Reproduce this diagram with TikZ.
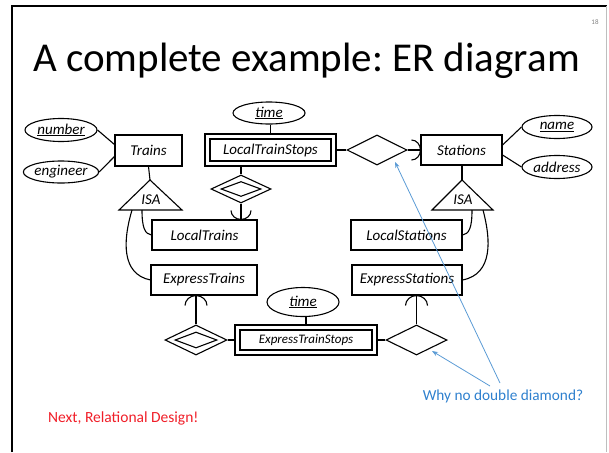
\documentclass[tikz,border=0pt]{standalone}
\usepackage{fontspec}
\setmainfont{Carlito}
\frenchspacing
\usetikzlibrary{shapes.geometric,calc,arrows.meta}
\definecolor{annblue}{RGB}{46,128,206}
\definecolor{arrblue}{RGB}{91,155,213}
\definecolor{nextred}{RGB}{240,30,40}
\definecolor{framegray}{RGB}{190,190,190}
\begin{document}
\begin{tikzpicture}[x=1pt,y=-1pt,
  lw/.style={line width=1.1pt},
  dfont/.style={font=\fontsize{15}{17}\selectfont\itshape},
  ent/.style={draw, lw, rectangle, inner sep=0pt, dfont},
  attr/.style={draw, lw, ellipse, inner sep=0pt, dfont},
  rel/.style={draw, lw, diamond, inner sep=0pt},
  conn/.style={lw},
  ann/.style={draw=arrblue, line width=0.8pt, -{Stealth[length=6pt,width=4.5pt]}},
  cupdown/.pic={\draw[lw] (-10,-9) .. controls (-10,-4) and (-5.5,0) .. (0,0) .. controls (5.5,0) and (10,-4) .. (10,-9);},
  cupup/.pic={\draw[lw] (-11,10) .. controls (-11,4.5) and (-6,0) .. (0,0) .. controls (6,0) and (11,4.5) .. (11,10);},
  cupright/.pic={\draw[lw] (-9,-10) .. controls (-4,-10) and (0,-5.5) .. (0,0) .. controls (0,5.5) and (-4,10) .. (-9,10);}
]
\useasboundingbox (0,0) rectangle (609,452);
% frame
\draw[line width=2pt] (12,452) -- (12,6) -- (607,6);
\draw[framegray, line width=0.6pt] (606.5,6) -- (606.5,452);
% title
\node[anchor=base west, inner sep=0pt, font=\fontsize{41}{46}\selectfont] (title) at (33,71) {A complete example: ER diagram};
\node[text=gray, font=\fontsize{7}{8}\selectfont, inner sep=0pt] (pnum) at (595,22) {18};

% entities and attributes
\node[attr, minimum width=72pt, minimum height=23pt] (number) at (61,130) {\underline{number}};
\node[attr, minimum width=72pt, minimum height=22pt] (engineer) at (61,172) {engineer};
\node[ent, minimum width=67pt, minimum height=31pt] (trains) at (148.5,150.5) {Trains};

\node[attr, minimum width=72pt, minimum height=22pt] (ttime) at (269,113) {\underline{time}};
\node[ent, minimum width=131pt, minimum height=32pt] (ltstops) at (270.5,150) {};
\node[ent, minimum width=121pt, minimum height=22pt] (ltstopsin) at (270.5,150) {LocalTrainStops};

\node[rel, minimum width=60pt, minimum height=30pt] (rel1) at (377,150) {};
\node[ent, minimum width=81pt, minimum height=30pt] (stations) at (461.5,150) {Stations};
\node[attr, minimum width=70pt, minimum height=23pt] (name) at (557,127) {\underline{name}};
\node[attr, minimum width=70pt, minimum height=23pt] (address) at (557,167) {address};

\node[rel, minimum width=60pt, minimum height=28pt] (ldd) at (241,189) {};
\node[rel, minimum width=40pt, minimum height=15pt] (lddin) at (241,189) {};

\node[ent, minimum width=105pt, minimum height=30pt] (ltrains) at (204.5,235) {LocalTrains};
\node[ent, minimum width=111pt, minimum height=30pt] (lstations) at (406.5,235) {LocalStations};
\node[ent, minimum width=106pt, minimum height=30pt] (etrains) at (204,280) {ExpressTrains};
\node[ent, minimum width=110pt, minimum height=30pt] (estations) at (407,280) {ExpressStations};

\node[attr, minimum width=72pt, minimum height=29pt] (etime) at (303,302) {\underline{time}};
\node[ent, minimum width=142pt, minimum height=30pt] (etstops) at (306,340) {};
\node[ent, minimum width=132pt, minimum height=20pt, font=\fontsize{13}{15}\selectfont\itshape] (etstopsin) at (306,340) {ExpressTrainStops};
\node[rel, minimum width=62pt, minimum height=30pt] (edd) at (196,340) {};
\node[rel, minimum width=42pt, minimum height=16pt] (eddin) at (196,340) {};
\node[rel, minimum width=61pt, minimum height=30pt] (rel2) at (416.5,340) {};

% ISA triangles
\coordinate (isaLa) at (150,180);
\coordinate (isaLb) at (119,210);
\coordinate (isaLc) at (182,210);
\draw[lw, line join=miter] (isaLa) -- (isaLb) -- (isaLc) -- cycle;
\node[dfont, inner sep=0pt] (isaL) at (151,200) {ISA};
\coordinate (isaRa) at (462,180);
\coordinate (isaRb) at (432,210);
\coordinate (isaRc) at (493,210);
\draw[lw, line join=miter] (isaRa) -- (isaRb) -- (isaRc) -- cycle;
\node[dfont, inner sep=0pt] (isaR) at (463,200) {ISA};

% connectors
\draw[conn] (number.east) -- ($(trains.west)+(0,-6)$);
\draw[conn] (engineer.east) -- ($(trains.west)+(0,6)$);
\draw[conn] ($(stations.east)+(0,-5)$) -- (name.west);
\draw[conn] ($(stations.east)+(0,5)$) -- (address.west);
\draw[conn] (trains.south) -- (isaLa);
\draw[conn] (stations.south -| isaRa) -- (isaRa);

\draw[conn] (ltstops.north) -- (ltstops.north |- ttime.south);
\draw[conn] (ltstops.south -| ldd.north) -- (ldd.north);
\draw[conn] (ldd.south) -- (ldd.south |- ltrains.north);
\pic at (ldd.south |- ltrains.north) {cupdown};
\draw[conn] (ltstops.east) -- (rel1.west);
\draw[conn] (rel1.east) -- (stations.west);
\pic at (stations.west) {cupright};

% ISA curves
\coordinate (isaL1) at (142,210);
\coordinate (isaL2) at (132,210);
\draw[conn] (isaL1) .. controls (142,228) and (145,234) .. (ltrains.west);
\draw[conn] (isaL2) .. controls (123,240) and (121,274) .. (etrains.west);
\coordinate (isaR1) at (472,210);
\coordinate (isaR2) at (483,210);
\draw[conn] (isaR1) .. controls (472,228) and (469,234) .. (lstations.east);
\draw[conn] (isaR2) .. controls (491,240) and (493,274) .. (estations.east);

% bottom
\draw[conn] (etstops.north) -- (etstops.north |- etime.south);
\draw[conn] (edd.east) -- (etstops.west);
\draw[conn] (edd.north) -- (edd.north |- etrains.south);
\pic at (edd.north |- etrains.south) {cupup};
\draw[conn] (etstops.east) -- (rel2.west);
\draw[conn] (rel2.north) -- (rel2.north |- estations.south);
\pic at (rel2.north |- estations.south) {cupup};

% annotations
\node[text=annblue, font=\fontsize{15.3}{17}\selectfont, inner sep=0pt] (why) at (503,396) {Why no double diamond?};
\coordinate (w1) at (500,383);
\coordinate (w2) at (490,386);
\draw[ann] (w1) -- ($(rel1.center)+(18,12)$);
\draw[ann] (w2) -- ($(rel2.center)+(15.5,11)$);
\node[text=nextred, font=\fontsize{15.5}{17}\selectfont, anchor=west, inner sep=0pt] (next) at (48,418) {Next, Relational Design!};
\end{tikzpicture}
\end{document}
